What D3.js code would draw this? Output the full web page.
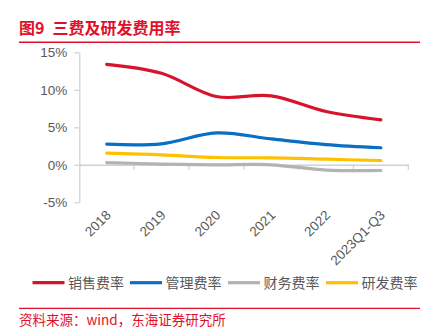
<!DOCTYPE html>
<html>
<head>
<meta charset="utf-8">
<script src="https://cdn.jsdelivr.net/npm/d3@7/dist/d3.min.js"></script>
<style>
  html, body { margin: 0; padding: 0; background: #fff; }
  svg { display: block; }
</style>
</head>
<body>
<svg id="chart" width="433" height="328"></svg>
<script>
// Expense ratios (%), by year
const categories = ["2018", "2019", "2020", "2021", "2022", "2023Q1-Q3"];
const sellingRate = [13.4, 12.2, 9.1, 9.2, 7.1, 6.0];
const adminRate   = [2.75, 2.8, 4.25, 3.45, 2.7, 2.27];
const financeRate = [0.3, 0.1, 0.0, 0.0, -0.7, -0.76];
const rdRate      = [1.55, 1.33, 0.97, 0.93, 0.75, 0.57];
const yTicks = [-5, 0, 5, 10, 15];

const seriesNames  = ["销售费率", "管理费率", "财务费率", "研发费率"];
const seriesValues = [sellingRate, adminRate, financeRate, rdRate];
const seriesColors = ["#d7142c", "#0a6fc2", "#b3b3b3", "#ffc000"];

const red = "#e0102a";
const textGrey = "#595959";
const axisGrey = "#d0d0d0";
const latin = "'Liberation Sans', Arial, 'Noto Sans CJK SC', sans-serif";
const cjk = "'Noto Sans CJK SC', 'Liberation Sans', sans-serif";

const svg = d3.select("#chart");

// Title and rules
const title = svg.append("text")
  .attr("x", 19).attr("y", 34)
  .attr("fill", red)
  .attr("font-family", cjk)
  .attr("font-weight", "bold")
  .attr("font-size", 16);
title.append("tspan").text("图9");
title.append("tspan").attr("dx", 8).text("三费及研发费用率");
svg.append("line")
  .attr("x1", 19).attr("x2", 420).attr("y1", 42.3).attr("y2", 42.3)
  .attr("stroke", red).attr("stroke-width", 1.5);
svg.append("line")
  .attr("x1", 19).attr("x2", 420).attr("y1", 308.3).attr("y2", 308.3)
  .attr("stroke", red).attr("stroke-width", 1.2);
svg.append("text")
  .attr("x", 19).attr("y", 324.5)
  .attr("fill", red)
  .attr("font-family", cjk)
  .attr("font-size", 13.5)
  .text("资料来源：wind，东海证券研究所");

// Scales
const x = d3.scaleBand().domain(categories).range([79.3, 408.3]).padding(0);
const y = d3.scaleLinear().domain([-5, 15]).range([202.3, 52.3]);
const cx = d => x(d) + x.bandwidth() / 2;

// Y axis
const yAxis = svg.append("g")
  .attr("transform", `translate(${x.range()[0]},0)`)
  .call(d3.axisLeft(y).tickValues(yTicks).tickSize(5).tickSizeOuter(0)
    .tickFormat(d => d + "%").tickPadding(7));
yAxis.select(".domain").attr("stroke", axisGrey).attr("stroke-width", 1.2);
yAxis.selectAll(".tick line").attr("stroke", axisGrey).attr("stroke-width", 1.2);
yAxis.selectAll(".tick text")
  .attr("fill", textGrey)
  .attr("font-family", latin)
  .attr("font-size", 13.5);

// Category axis along zero
const xAxis = svg.append("g")
  .attr("transform", `translate(0,${y(0)})`)
  .call(d3.axisBottom(x).tickSize(0).tickFormat(""));
xAxis.select(".domain").attr("stroke", axisGrey).attr("stroke-width", 1.5);
xAxis.selectAll(".tick").remove();
// boundary ticks between categories
const bounds = categories.slice(1).map(c => x(c)).concat([x.range()[1]]);
svg.append("g").selectAll("line").data(bounds).join("line")
  .attr("x1", d => d).attr("x2", d => d)
  .attr("y1", y(0)).attr("y2", y(0) + 5)
  .attr("stroke", axisGrey).attr("stroke-width", 1.2);

// Rotated category labels
svg.append("g").selectAll("text").data(categories).join("text")
  .attr("transform", d => `translate(${cx(d) + 5},${216}) rotate(-45)`)
  .attr("text-anchor", "end")
  .attr("fill", textGrey)
  .attr("font-family", latin)
  .attr("font-size", 13.5)
  .text(d => d);

// Lines
const line = d3.line()
  .x((d, i) => cx(categories[i]))
  .y(d => y(d))
  .curve(d3.curveCardinal.tension(0));

svg.append("g").selectAll("path").data(seriesValues).join("path")
  .attr("d", d => line(d))
  .attr("fill", "none")
  .attr("stroke", (d, i) => seriesColors[i])
  .attr("stroke-width", 3.2)
  .attr("stroke-linecap", "round");

// Legend
const legendX = [32.5, 130, 228, 326];
const lg = svg.append("g").selectAll("g").data(seriesNames).join("g")
  .attr("transform", (d, i) => `translate(${legendX[i]},282.7)`);
lg.append("line")
  .attr("x1", 0).attr("x2", 32).attr("y1", 0).attr("y2", 0)
  .attr("stroke", (d, i) => seriesColors[i])
  .attr("stroke-width", 3.2);
lg.append("text")
  .attr("x", 35.5).attr("y", 5)
  .attr("fill", textGrey)
  .attr("font-family", cjk)
  .attr("font-size", 14)
  .text(d => d);
</script>
</body>
</html>
